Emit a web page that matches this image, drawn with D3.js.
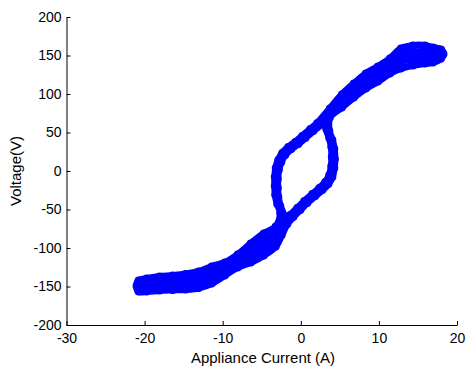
<!DOCTYPE html>
<html>
<head>
<meta charset="utf-8">
<script src="https://cdn.jsdelivr.net/npm/d3@7"></script>
<style>
body { margin: 0; background: #fff; }
text { font-family: "Liberation Sans", Arial, sans-serif; }
</style>
</head>
<body>
<script>
// Data: two traced cycles of the V-I trajectory (current in A, voltage in V)
var cycleAI = [
  -21.03, -20.77, -19.74, -18.08, -16.41, -14.74, -13.08, -11.41, -9.74, -8.08, -6.41, -4.74, -3.21,
  -2.63, -3.01, -3.27, -3.33, -3.33, -3.21, -2.88, -2.37, -1.60, -0.71, 0.19, 1.22, 2.12,
  3.72, 5.26, 6.79, 8.33, 9.87, 11.41, 12.82, 14.36, 15.90, 16.92, 17.95,
  18.27,
  17.95, 16.92, 15.90, 14.36, 12.82, 11.41, 9.87, 8.33, 6.79, 5.26, 3.72,
  3.65, 4.04, 4.29, 4.36, 4.29, 4.04, 3.53, 2.76, 1.86, 0.83, -0.06, -0.96, -1.73,
  -2.44,
  -3.21, -4.74, -6.41, -8.08, -9.74, -11.41, -13.08, -14.74, -16.41, -18.08, -19.74, -20.77
];
var cycleAV = [
  -149.4, -142.2, -139.6, -137.0, -135.7, -133.8, -130.5, -124.0, -118.8, -108.4, -94.2, -81.2, -72.1,
  -54.5, -42.9, -31.2, -19.5, -7.8, 3.9, 14.3, 23.4, 31.2, 37.7, 45.5, 54.5, 62.3,
  81.2, 99.4, 113.6, 126.6, 135.7, 146.1, 159.1, 163.0, 163.0, 160.4, 157.8,
  151.9,
  146.1, 140.9, 139.6, 137.0, 133.1, 126.6, 116.2, 107.1, 95.5, 82.5, 69.5,
  51.9, 40.3, 28.6, 15.6, 3.9, -7.8, -16.9, -24.7, -32.5, -41.6, -50.6, -59.7, -68.8,
  -83.1,
  -98.1, -109.7, -118.8, -125.3, -135.7, -146.1, -151.9, -153.9, -154.5, -155.2, -156.5, -156.5
];

var cycleBI = [
  -20.77, -19.74, -18.08, -16.41, -14.74, -13.08, -11.41, -9.74, -8.08, -6.41, -4.74, -3.21,
  -2.24, -2.63, -2.88, -2.95, -2.95, -2.82, -2.50, -1.99, -1.22, -0.32, 0.58, 1.60, 2.50,
  3.72, 5.26, 6.79, 8.33, 9.87, 11.41, 12.82, 14.36, 15.90, 16.92, 17.95,
  17.95, 16.92, 15.90, 14.36, 12.82, 11.41, 9.87, 8.33, 6.79, 5.26, 3.72,
  3.27, 3.65, 3.91, 3.97, 3.91, 3.65, 3.14, 2.37, 1.47, 0.45, -0.45, -1.35, -2.12,
  -2.69,
  -3.21, -4.74, -6.41, -8.08, -9.74, -11.41, -13.08, -14.74, -16.41, -18.08, -19.74, -20.77
];
var cycleBV = [
  -147.0, -145.2, -143.1, -141.9, -140.5, -137.7, -131.4, -124.4, -114.0, -102.3, -90.6, -80.8,
  -57.1, -45.5, -33.8, -22.1, -10.4, 1.3, 11.7, 20.8, 28.6, 35.1, 42.9, 51.9, 59.7,
  77.3, 93.8, 107.5, 120.1, 129.2, 139.6, 150.4, 154.3, 155.2, 153.9, 153.9,
  150.0, 147.4, 147.4, 145.7, 141.8, 133.1, 122.7, 113.6, 101.6, 88.1, 73.4,
  54.5, 42.9, 31.2, 18.2, 6.5, -5.2, -14.3, -22.1, -29.9, -39.0, -48.1, -57.1, -66.2,
  -77.9,
  -89.4, -100.3, -110.6, -119.7, -130.1, -138.7, -144.8, -147.1, -148.3, -149.1, -150.9, -151.7
];

// Tick labels
var xTicks = [-30, -20, -10, 0, 10, 20];
var yTicks = [-200, -150, -100, -50, 0, 50, 100, 150, 200];

var width = 466, height = 369;
var blue = "#0000ff";

var svg = d3.select("body").append("svg").attr("width", width).attr("height", height);

// Scales
var xScale = d3.scaleLinear().domain([-30, 20]).range([66.5, 457]);
var yScale = d3.scaleLinear().domain([-200, 200]).range([325, 17]);

var cycles = [
  d3.zip(cycleAI, cycleAV),
  d3.zip(cycleBI, cycleBV)
];

var line = d3.line()
  .x(function(d) { return xScale(d[0]); })
  .y(function(d) { return yScale(d[1]); })
  .curve(d3.curveCatmullRomClosed);

// Trajectory band
svg.selectAll(".traj")
  .data(cycles)
  .enter()
  .append("path")
  .attr("class", "traj")
  .attr("d", line)
  .attr("fill", "none")
  .attr("stroke", blue)
  .attr("stroke-width", 7)
  .attr("stroke-linejoin", "round");

// Circle markers
var points = cycles[0].concat(cycles[1]);
svg.selectAll(".pt")
  .data(points)
  .enter()
  .append("circle")
  .attr("class", "pt")
  .attr("cx", function(d) { return xScale(d[0]); })
  .attr("cy", function(d) { return yScale(d[1]); })
  .attr("r", 3.4)
  .attr("fill", "none")
  .attr("stroke", blue)
  .attr("stroke-width", 1.2);

// Axes (MATLAB style, ticks inward)
var xAxis = d3.axisBottom(xScale).tickValues(xTicks)
  .tickFormat(function(d) { return String(d); })
  .tickSizeInner(-4).tickSizeOuter(0).tickPadding(8.5);
var yAxis = d3.axisLeft(yScale).tickValues(yTicks)
  .tickFormat(function(d) { return String(d); })
  .tickSizeInner(-4).tickSizeOuter(0).tickPadding(5);

svg.append("g")
  .attr("transform", "translate(0,325)")
  .call(xAxis)
  .attr("font-size", 14)
  .attr("font-family", "'Liberation Sans', Arial, sans-serif");

svg.append("g")
  .attr("transform", "translate(66.5,0)")
  .call(yAxis)
  .attr("font-size", 14)
  .attr("font-family", "'Liberation Sans', Arial, sans-serif");

// Axis labels
svg.append("text")
  .attr("x", 263)
  .attr("y", 362.5)
  .attr("text-anchor", "middle")
  .attr("font-size", 15)
  .text("Appliance Current (A)");

svg.append("text")
  .attr("transform", "translate(21,171) rotate(-90)")
  .attr("text-anchor", "middle")
  .attr("font-size", 15)
  .text("Voltage(V)");
</script>
</body>
</html>
